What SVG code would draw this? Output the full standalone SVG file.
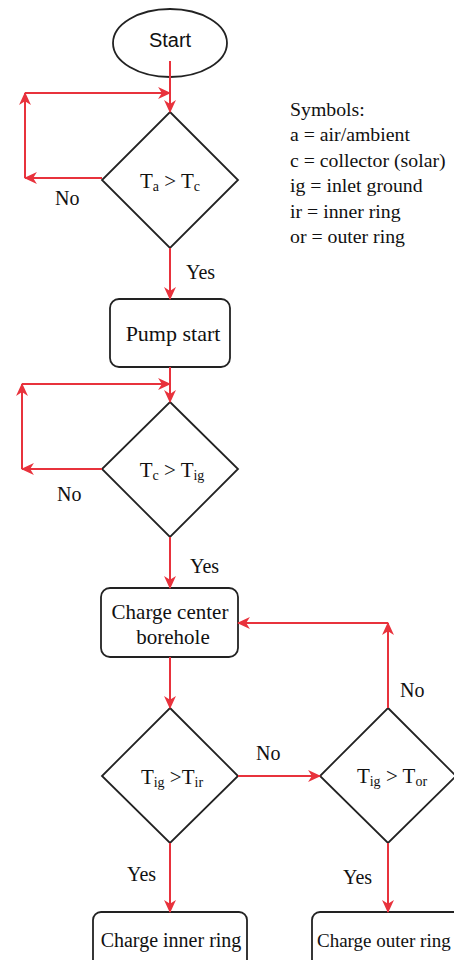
<svg xmlns="http://www.w3.org/2000/svg" width="454" height="960" viewBox="0 0 454 960">
<style>
.shape{fill:#fff;stroke:#222;stroke-width:1.8}
.t{font-family:"Liberation Serif","DejaVu Serif",serif;font-size:21px;fill:#111}
.s{font-family:"Liberation Sans",Arial,sans-serif;font-size:20px;fill:#111}
.lbl{font-family:"Liberation Serif","DejaVu Serif",serif;font-size:20px;fill:#111}
.sym{font-family:"Liberation Serif","DejaVu Serif",serif;font-size:19.8px;fill:#111}
.sub{font-size:14px}
.c{fill:none;stroke:#e8323c;stroke-width:2;marker-end:url(#ah)}
</style>
<defs>
<marker id="ah" viewBox="0 0 12 12" markerWidth="13" markerHeight="13" refX="11" refY="6" orient="auto" markerUnits="userSpaceOnUse">
<path d="M0,0.5 L12,6 L0,11.5 L3.5,6 z" fill="#e8323c"/>
</marker>
</defs>
<rect width="454" height="960" fill="#fff"/>
<g id="start"><ellipse class="shape" cx="170" cy="43" rx="57" ry="34"/><text class="s" x="170" y="47" text-anchor="middle">Start</text></g>
<g id="d1"><polygon class="shape" points="170,112 238,180 170,248 102,180"/><text class="t" x="170" y="188" text-anchor="middle">T<tspan class="sub" dy="3">a</tspan><tspan dy="-3"> &gt; T</tspan><tspan class="sub" dy="3">c</tspan></text></g>
<g id="pump"><rect class="shape" x="110" y="299" width="120" height="68" rx="9"/><text class="t" x="173" y="341" text-anchor="middle" style="font-size:22px">Pump start</text></g>
<g id="d2"><polygon class="shape" points="170,402 238,469 170,537 102,469"/><text class="t" x="172" y="477" text-anchor="middle">T<tspan class="sub" dy="3">c</tspan><tspan dy="-3"> &gt; T</tspan><tspan class="sub" dy="3">ig</tspan></text></g>
<g id="center"><rect class="shape" x="101" y="588" width="137" height="69" rx="9"/><text class="t" x="170" y="619" text-anchor="middle">Charge center</text><text class="t" x="173" y="644" text-anchor="middle">borehole</text></g>
<g id="d3"><polygon class="shape" points="170,708 238,776 170,843 102,776"/><text class="t" x="172" y="784" text-anchor="middle">T<tspan class="sub" dy="3">ig</tspan><tspan dy="-3"> &gt;T</tspan><tspan class="sub" dy="3">ir</tspan></text></g>
<g id="d4"><polygon class="shape" points="388,708 456,776 388,843 320,776"/><text class="t" x="392" y="783" text-anchor="middle">T<tspan class="sub" dy="3">ig</tspan><tspan dy="-3"> &gt; T</tspan><tspan class="sub" dy="3">or</tspan></text></g>
<g id="inner"><rect class="shape" x="93" y="912" width="154" height="60" rx="8"/><text class="t" x="171" y="947" text-anchor="middle" style="font-size:20px">Charge inner ring</text></g>
<g id="outer"><rect class="shape" x="312" y="912" width="160" height="60" rx="8"/><text class="t" x="317" y="947" style="font-size:19px">Charge outer ring</text></g>
<g id="connectors">
<path class="c" d="M170,61 L170,112"/>
<path class="c" d="M102,178 L25,178"/>
<path class="c" d="M25,178 L25,93"/>
<path class="c" d="M25,93 L170,93"/>
<path class="c" d="M170,248 L170,299"/>
<path class="c" d="M170,367 L170,402"/>
<path class="c" d="M102,469 L22,469"/>
<path class="c" d="M22,469 L22,384"/>
<path class="c" d="M22,384 L170,384"/>
<path class="c" d="M170,537 L170,588"/>
<path class="c" d="M170,657 L170,708"/>
<path class="c" d="M238,776 L320,776"/>
<path class="c" d="M388,708 L388,623"/>
<path class="c" d="M388,623 L238,623"/>
<path class="c" d="M170,843 L170,912"/>
<path class="c" d="M388,843 L388,912"/>
</g>
<g id="labels">
<text class="lbl" x="55" y="205">No</text>
<text class="lbl" x="186" y="279">Yes</text>
<text class="lbl" x="57" y="501">No</text>
<text class="lbl" x="190" y="573">Yes</text>
<text class="lbl" x="256" y="760">No</text>
<text class="lbl" x="400" y="697">No</text>
<text class="lbl" x="127" y="881">Yes</text>
<text class="lbl" x="343" y="884">Yes</text>
</g>
<g id="symbols">
<text class="sym" x="290" y="116">Symbols:</text>
<text class="sym" x="290" y="141">a = air/ambient</text>
<text class="sym" x="290" y="167">c = collector (solar)</text>
<text class="sym" x="290" y="192">ig = inlet ground</text>
<text class="sym" x="290" y="218">ir = inner ring</text>
<text class="sym" x="290" y="243">or = outer ring</text>
</g>
</svg>
